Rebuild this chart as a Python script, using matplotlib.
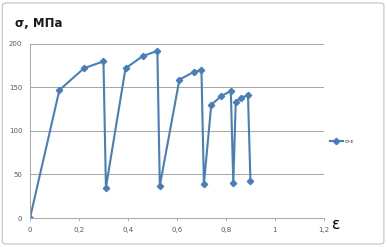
import matplotlib.pyplot as plt
from matplotlib.patches import FancyBboxPatch

# strain / stress readings
strain = [0, 0.12, 0.22, 0.30, 0.31, 0.39, 0.46, 0.52, 0.53, 0.61, 0.67, 0.70,
          0.71, 0.74, 0.78, 0.82, 0.83, 0.84, 0.86, 0.89, 0.90]
stress = [0, 147, 172, 180, 35, 172, 186, 192, 37, 159, 168, 170,
          39, 130, 140, 146, 40, 133, 138, 141, 42]
x_ticks = [0, 0.2, 0.4, 0.6, 0.8, 1.0, 1.2]
x_labels = ["0", "0,2", "0,4", "0,6", "0,8", "1", "1,2"]
y_ticks = [0, 50, 100, 150, 200]

fig = plt.figure(figsize=(3.87, 2.47), dpi=100)
fig.patches.append(FancyBboxPatch((0.006, 0.012), 0.986, 0.976,
                                  boxstyle="round,pad=0,rounding_size=0.01",
                                  transform=fig.transFigure, fill=False,
                                  edgecolor="#c0c0c0", linewidth=0.8))
ax = fig.add_axes([0.0775, 0.1174, 0.7595, 0.7046])

ax.plot(strain, stress, color="#4a7ebb", linewidth=1.5, marker="D",
        markersize=3.2, label="σ-ε")
ax.set_xlim(0, 1.2)
ax.set_ylim(0, 200)
ax.set_xticks(x_ticks)
ax.set_xticklabels(x_labels)
ax.set_yticks(y_ticks)
ax.tick_params(labelsize=5, colors="#595959", length=2.5, width=0.6, pad=4)
ax.tick_params(axis="y", length=0, pad=5.5)
ax.tick_params(axis="x", color="#a6a6a6")
ax.yaxis.grid(True, color="#a6a6a6", linewidth=0.7)
ax.set_axisbelow(True)
for s in ["top", "right"]:
    ax.spines[s].set_visible(False)
ax.spines["left"].set_color("#a6a6a6")
ax.spines["bottom"].set_color("#a6a6a6")
ax.spines["left"].set_linewidth(0.7)
ax.spines["bottom"].set_linewidth(0.7)

fig.text(0.04, 0.905, "σ, МПа", fontsize=8.5, fontweight="bold", va="center",
         color="#1a1a1a")
fig.text(0.868, 0.093, "ε", fontsize=11, va="center", ha="center")

ax.legend(loc="center left", bbox_to_anchor=(1.0, 0.44), frameon=False,
          fontsize=4.5, handlelength=2.2, handletextpad=0.2,
          labelcolor="#404040")

fig.savefig("out.png", dpi=100)
